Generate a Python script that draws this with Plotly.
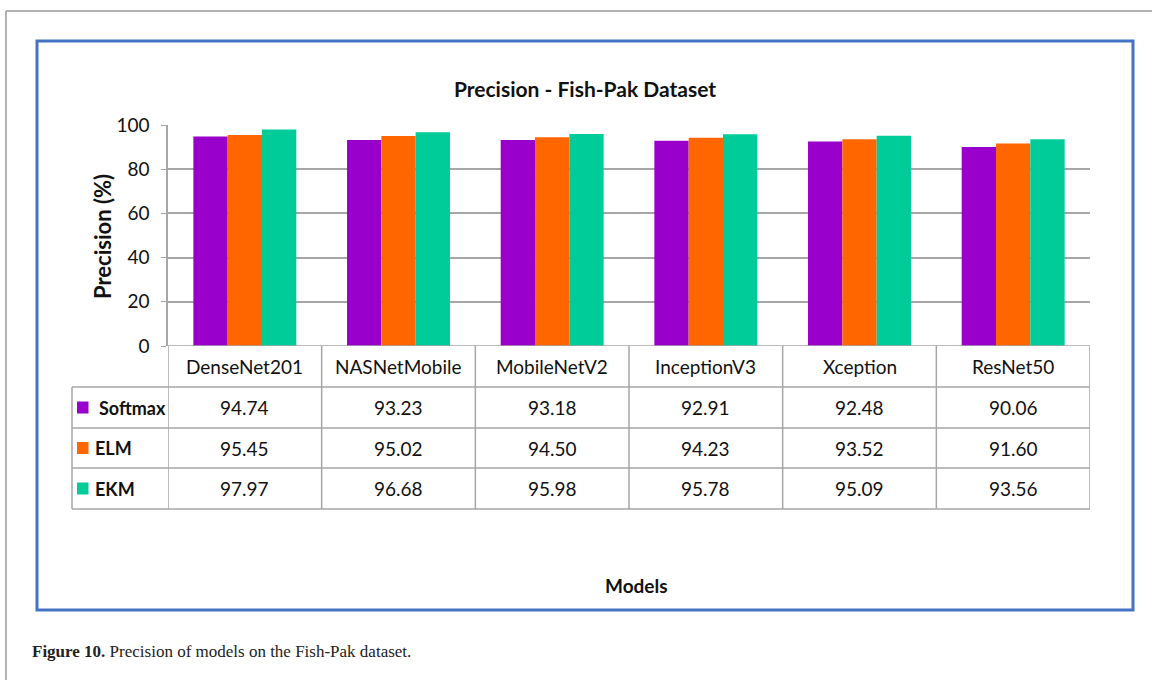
import plotly.graph_objects as go

models = ["DenseNet201", "NASNetMobile", "MobileNetV2", "InceptionV3", "Xception", "ResNet50"]
series_names = ["Softmax", "ELM", "EKM"]
softmax = [94.74, 93.23, 93.18, 92.91, 92.48, 90.06]
elm = [95.45, 95.02, 94.50, 94.23, 93.52, 91.60]
ekm = [97.97, 96.68, 95.98, 95.78, 95.09, 93.56]
y_ticks = [0, 20, 40, 60, 80, 100]

series_values = [softmax, elm, ekm]
colors = ["#9900CC", "#FF6600", "#00CC99"]

W_FIG, H_FIG = 1152, 680
L, R_EDGE, T, B = 168, 1090, 125, 346
PW, PH = R_EDGE - L, B - T

def px(x):
    return (x - L) / PW

def py(y):
    return (B - y) / PH

FONT = "Lato"
GRID = "#A6A6A6"
TABLE = "#A6A6A6"

fig = go.Figure()
for name, vals, col in zip(series_names, series_values, colors):
    fig.add_trace(go.Bar(x=models, y=vals, name=name, marker=dict(color=col, line=dict(width=0)),
                         showlegend=False, hoverinfo="skip"))

shapes = []
annotations = []

row_edges = [346, 387, 428, 468, 509]
for ry in row_edges[1:]:
    shapes.append(dict(type="line", xref="paper", yref="paper", x0=px(72), x1=px(1090),
                       y0=py(ry), y1=py(ry), line=dict(color=TABLE, width=1.5)))
for i in range(len(models) + 1):
    shapes.append(dict(type="line", xref="x", yref="paper", x0=i - 0.5, x1=i - 0.5,
                       y0=py(346), y1=py(509), line=dict(color=TABLE, width=1.5)))
shapes.append(dict(type="line", xref="paper", yref="paper", x0=px(72), x1=px(72),
                   y0=py(387), y1=py(509), line=dict(color=TABLE, width=1.5)))

for m in models:
    annotations.append(dict(x=m, xref="x", y=py(366.5), yref="paper", text=m, showarrow=False,
                            font=dict(family=FONT, size=19, color="#111"), xanchor="center", yanchor="middle"))
row_centers = [407.5, 448, 488.5]
label_x = [97, 93, 93]
for r, (name, vals, col) in enumerate(zip(series_names, series_values, colors)):
    cy = row_centers[r]
    for m, v in zip(models, vals):
        annotations.append(dict(x=m, xref="x", y=py(cy), yref="paper", text=f"{v:.2f}", showarrow=False,
                                font=dict(family=FONT, size=19, color="#111"), xanchor="center", yanchor="middle"))
    shapes.append(dict(type="rect", xref="paper", yref="paper", x0=px(77), x1=px(88.5),
                       y0=py(cy - 6), y1=py(cy + 6), fillcolor=col, line=dict(width=0)))
    annotations.append(dict(x=px(label_x[r]), xref="paper", y=py(cy), yref="paper", text=f"<b>{name}</b>",
                            showarrow=False, font=dict(family=FONT, size=18, color="#111"),
                            xanchor="left", yanchor="middle"))

annotations.append(dict(x=585 / W_FIG, xref="paper", y=py(585), yref="paper", text="<b>Models</b>",
                        showarrow=False, font=dict(family=FONT, size=19, color="#111"),
                        xanchor="center", yanchor="middle"))
annotations.append(dict(x=px(102), xref="paper", y=py(237), yref="paper", text="<b>Precision (%)</b>",
                        showarrow=False, textangle=-90, font=dict(family=FONT, size=22, color="#111"),
                        xanchor="center", yanchor="middle"))
annotations.append(dict(x=px(30), xref="paper", y=py(651), yref="paper",
                        text="<b>Figure 10.</b> Precision of models on the Fish-Pak dataset.",
                        showarrow=False, font=dict(family="Liberation Serif", size=17, color="#222"),
                        xanchor="left", yanchor="middle"))

shapes.append(dict(type="rect", xref="paper", yref="paper", x0=px(37), x1=px(1133), y0=py(41), y1=py(610),
                   line=dict(color="#4472C4", width=3), fillcolor="rgba(0,0,0,0)", layer="below"))
shapes.append(dict(type="line", xref="paper", yref="paper", x0=px(6), x1=px(1152), y0=py(11), y1=py(11),
                   line=dict(color="#999999", width=1.5)))
shapes.append(dict(type="line", xref="paper", yref="paper", x0=px(6), x1=px(6), y0=py(11), y1=py(680),
                   line=dict(color="#999999", width=1.5)))

fig.update_layout(
    width=W_FIG, height=H_FIG,
    margin=dict(l=L, r=W_FIG - R_EDGE, t=T, b=H_FIG - B),
    paper_bgcolor="white", plot_bgcolor="white",
    barmode="group", bargap=0.33, bargroupgap=0,
    title=dict(text="<b>Precision - Fish-Pak Dataset</b>", x=585 / W_FIG, xanchor="center",
               y=1 - 90 / H_FIG, yanchor="middle", font=dict(family=FONT, size=21, color="#111")),
    xaxis=dict(range=[-0.5, len(models) - 0.5], showticklabels=False, showgrid=False, zeroline=False,
               showline=False, ticks=""),
    yaxis=dict(range=[0, 100], tickvals=y_ticks, ticks="outside", ticklen=5, tickcolor=GRID,
               showgrid=True, gridcolor=GRID, gridwidth=1.5, showline=True, linecolor=GRID, linewidth=1.5,
               zeroline=False, ticklabelstandoff=8,
               tickfont=dict(family=FONT, size=19, color="#111")),
    shapes=shapes, annotations=annotations,
)
fig.add_hline(y=0, line=dict(color=GRID, width=1.5))

fig.write_html("out.html", config={"displayModeBar": False},
               post_script="document.body.style.margin='0px';")
